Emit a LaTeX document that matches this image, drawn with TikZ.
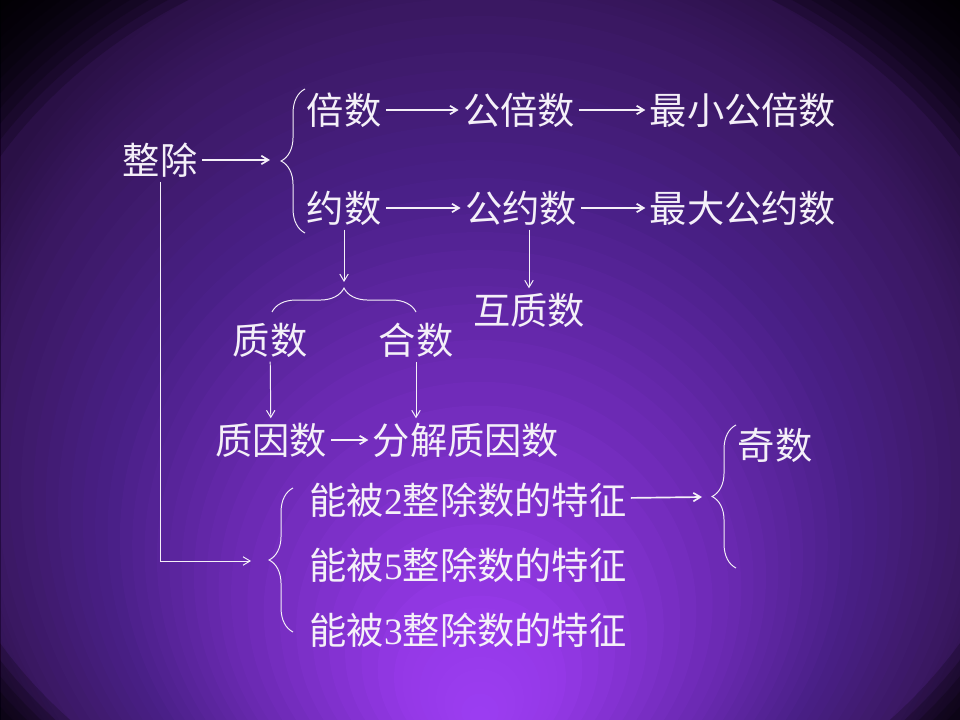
\documentclass[tikz,border=0pt]{standalone}
\usepackage{fontspec}
\setmainfont{Liberation Serif}
\newfontfamily\cjk{Noto Sans CJK SC}
\usetikzlibrary{arrows.meta}
\usetikzlibrary{decorations.pathreplacing}

\definecolor{chalk}{HTML}{F4F0F8}
\definecolor{bgA}{HTML}{9C3EF2}
\definecolor{bgB}{HTML}{9438E6}
\definecolor{bgC}{HTML}{6C2AB4}
\definecolor{bgD}{HTML}{4A2088}
\definecolor{bgE}{HTML}{3A1862}
\definecolor{bgF}{HTML}{2A1046}

\begin{document}
\begin{tikzpicture}[x=0.025cm,y=-0.025cm,
    word/.style={text=chalk,font=\cjk\fontsize{26.5}{31}\selectfont,inner sep=3pt},
    link/.style={draw=chalk,line width=1.2pt,-{Straight Barb[length=5pt,width=6pt]}},
    drop/.style={draw=chalk,line width=0.7pt,-{Straight Barb[length=5pt,width=6pt]}},
    curly/.style={draw=chalk,line width=0.7pt,decorate,decoration={brace,amplitude=17pt}}]
  \useasboundingbox (0,0) rectangle (960,720);
  % background glow and dark corners
  \begin{scope}
    \clip (0,0) rectangle (960,720);
    \fill[bgF] (0,0) rectangle (960,720);
    \foreach \ra/\rb/\ca/\cb in {1.12/1.0/bgF/bgE, 1.0/0.75/bgE/bgD,
        0.75/0.5/bgD/bgC, 0.5/0.17/bgC/bgB, 0.17/0.0/bgB/bgA}
      \foreach \k in {0,...,9} {
        \pgfmathsetmacro\rr{\ra-(\ra-\rb)*\k/10}
        \pgfmathtruncatemacro\mix{10*\k}
        \colorlet{glow}{\cb!\mix!\ca}
        \fill[glow] (480,720-250*\rr) ellipse ({494*\rr+2} and {470*\rr+2});
      }
    \foreach \s in {1.04,1.06,...,1.30}
      \fill[black,opacity=0.2,even odd rule] (0,0) rectangle (960,720)
        (480,400) ellipse ({540*\s} and {450*\s});
  \end{scope}

  \node[word] (zhengchu) at (160,160) {整除};
  \node[word] (beishu) at (344,110) {倍数};
  \node[word] (gongbei) at (519,110) {公倍数};
  \node[word] (zuixiaogb) at (743,110) {最小公倍数};
  \node[word] (yueshu) at (344,208) {约数};
  \node[word] (gongyue) at (521,208) {公约数};
  \node[word] (zuidagy) at (743,208) {最大公约数};
  \node[word] (huzhi) at (529,310) {互质数};
  \node[word] (zhishu) at (270,340) {质数};
  \node[word] (heshu) at (416,340) {合数};
  \node[word] (zhiyinshu) at (271,440) {质因数};
  \node[word] (fenjie) at (466,440) {分解质因数};
  \node[word] (neng2) at (468,500) {能被\textrm{2}整除数的特征};
  \node[word] (neng5) at (468,565) {能被\textrm{5}整除数的特征};
  \node[word] (neng3) at (468,630) {能被\textrm{3}整除数的特征};
  \node[word] (jishu) at (775,445) {奇数};

  % braces and their tips
  \draw[curly] (305,233) -- (305,89);
  \draw[curly] (272,312) -- (416,312);
  \draw[curly] (293,632) -- (293,488);
  \draw[curly] (736,568) -- (736,425);
  \coordinate (tipA) at (270,160);
  \coordinate (tipB) at (344,282);
  \coordinate (tipD) at (251,561);
  \coordinate (tipE) at (702,497);

  \draw[link] (zhengchu) -- (tipA);
  \draw[link] (beishu) -- (gongbei);
  \draw[link] (gongbei) -- (zuixiaogb);
  \draw[link] (yueshu) -- (gongyue);
  \draw[link] (gongyue) -- (zuidagy);
  \draw[drop] (yueshu) -- (tipB);
  \draw[drop] (huzhi |- gongyue.south) -- (huzhi);
  \draw[drop] (zhishu) -- (zhiyinshu);
  \draw[drop] (heshu) -- (heshu |- fenjie.north);
  \draw[link] (zhiyinshu) -- (fenjie);
  \draw[drop] (zhengchu) |- (tipD);
  \draw[link] (neng2) -- (tipE);
\end{tikzpicture}
\end{document}
